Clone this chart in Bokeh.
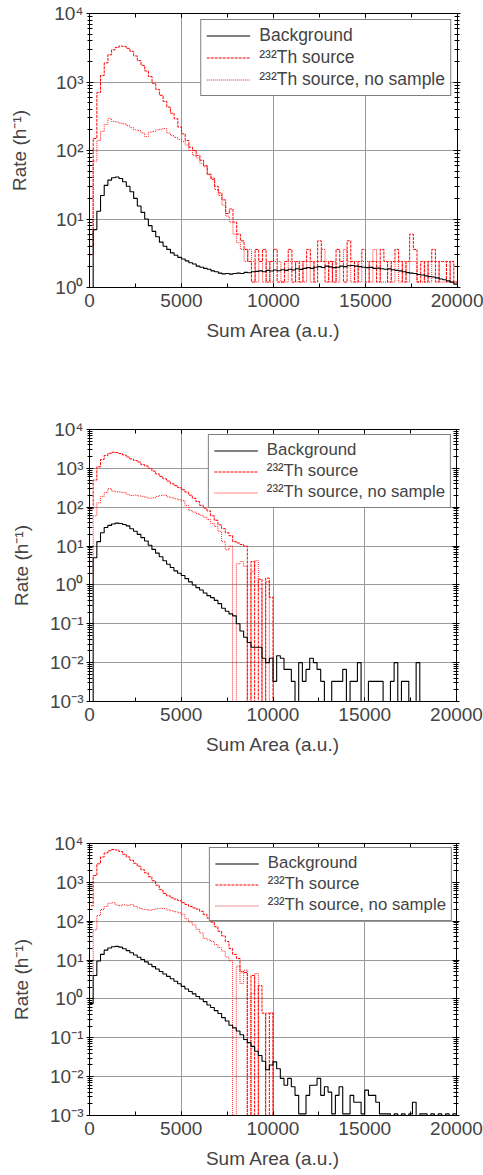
import numpy as np
from bokeh.plotting import figure
from bokeh.models import (Range1d, LinearAxis, LogAxis, SingleIntervalTicker, FixedTicker,
                          CustomJSTickFormatter, Legend, LegendItem)
from bokeh.layouts import column
from bokeh.embed import file_html
from bokeh.resources import INLINE

# ---------------- data ----------------
bin_width = 200  # a.u. per histogram bin, first bin starts at 0
x_title = "Sum Area (a.u.)"
y_title = "Rate (h\u207b\u00b9)"
series_names = ["Background", "\u00b2\u00b3\u00b2Th source", "\u00b2\u00b3\u00b2Th source, no sample"]

# Panel 1
p1_background = [0, 7, 13, 22, 31, 37, 40, 41, 39, 35,
                 30, 25, 20, 15.5, 12.5, 10, 8.0, 6.6, 5.5, 4.6,
                 4.0, 3.6, 3.2, 2.95, 2.75, 2.6, 2.45, 2.3, 2.2, 2.05,
                 1.98, 1.9, 1.85, 1.75, 1.7, 1.62, 1.58, 1.6, 1.57, 1.6,
                 1.62, 1.6, 1.66, 1.64, 1.7, 1.72, 1.75, 1.7, 1.78, 1.74,
                 1.8, 1.76, 1.82, 1.78, 1.85, 1.8, 1.88, 1.84, 1.9, 1.95,
                 1.9, 1.98, 2.02, 1.96, 2.05, 2.0, 1.95, 1.98, 2.05, 2.02,
                 2.08, 2.1, 2.05, 2.02, 1.98, 1.95, 1.97, 1.9, 1.92, 1.88,
                 1.85, 1.87, 1.82, 1.78, 1.75, 1.7, 1.65, 1.62, 1.6, 1.55,
                 1.52, 1.48, 1.45, 1.42, 1.38, 1.33, 1.3, 1.25, 1.2, 1.12]
p1_th_source = [4, 150, 700, 1250, 1900, 2500, 2950, 3200, 3350, 3300,
                3100, 2800, 2400, 2050, 1750, 1450, 1200, 960, 780, 640,
                520, 430, 350, 290, 220, 175, 140, 112, 100, 85,
                72, 60, 45, 38, 30, 24, 19, 12, 14, 9,
                6, 4.8, 3.6, 2.4, 1.2, 3.6, 2.4, 3.6, 1.2, 2.4,
                3.6, 1.2, 1.2, 2.4, 3.6, 1.2, 2.4, 1.2, 2.4, 3.6,
                2.4, 1.2, 4.8, 2.4, 1.2, 2.4, 1.2, 3.6, 2.4, 1.2,
                4.8, 2.4, 1.2, 2.4, 3.6, 1.2, 2.4, 2.4, 1.2, 3.6,
                2.4, 1.2, 2.4, 3.6, 2.4, 1.2, 2.4, 6.0, 3.6, 1.2,
                2.4, 1.2, 2.4, 3.6, 1.2, 2.4, 2.4, 1.2, 2.4, 1.2]
p1_no_sample = [3, 70, 140, 190, 240, 290, 265, 260, 250, 245,
                230, 215, 200, 195, 180, 160, 185, 190, 200, 205,
                210, 180, 165, 155, 145, 135, 120, 100, 85, 78,
                65, 58, 45, 40, 27, 22, 16, 11, 9, 6,
                4.5, 3.6, 2.4, 3.6, 2.4, 1.2, 2.4, 1.2, 2.4, 1.2,
                2.4, 2.4, 1.2, 1.2, 2.4, 2.4, 1.2, 2.4, 1.2, 2.4,
                1.2, 2.4, 2.4, 3.6, 2.4, 1.2, 2.4, 1.2, 2.4, 3.6,
                2.4, 1.2, 2.4, 1.2, 2.4, 2.4, 1.2, 3.6, 2.4, 1.2,
                1.2, 2.4, 1.2, 2.4, 1.2, 2.4, 1.2, 2.4, 2.4, 1.2,
                1.2, 2.4, 1.2, 2.4, 2.4, 1.2, 1.2, 2.4, 1.2, 1.2]

# Panel 2
p2_background = [0, 5, 13, 22, 30, 34, 37, 39, 38, 36,
                 33, 28, 24, 20, 16.5, 13.5, 10.5, 8.2, 6.6, 5.3,
                 4.2, 3.4, 2.8, 2.3, 2.0, 1.75, 1.45, 1.2, 1.0, 0.85,
                 0.74, 0.62, 0.53, 0.47, 0.4, 0.33, 0.25, 0.21, 0.18, 0.16,
                 0.1, 0.065, 0.045, 0.033, 0.025, 0.025, 0.025, 0.013, 0.01, 0.013,
                 0.0033, 0.015, 0.013, 0.0067, 0.0067, 0.0033, 0, 0.01, 0.0033, 0.0067,
                 0.013, 0.01, 0.0067, 0.0033, 0, 0, 0.0033, 0.0033, 0.0033, 0.0067,
                 0, 0.0033, 0.0033, 0.01, 0, 0, 0.0033, 0.0033, 0.0033, 0.0033,
                 0, 0, 0.0033, 0.01, 0, 0.0033, 0.0033, 0, 0, 0.01,
                 0, 0, 0, 0, 0, 0, 0, 0, 0, 0]
p2_th_source = [90, 500, 1100, 1700, 2150, 2450, 2600, 2550, 2400, 2200,
                1950, 1750, 1600, 1450, 1250, 1150, 1000, 850, 720, 620,
                540, 470, 400, 360, 320, 280, 245, 205, 170, 140,
                112, 95, 80, 60, 46, 35, 28, 22, 18.5, 13,
                12, 11, 10, 0, 4, 0, 1.4, 0, 1.5, 0.48]
p2_no_sample = [2, 60, 130, 190, 240, 300, 260, 250, 245, 240,
                215, 200, 205, 195, 190, 180, 170, 175, 190, 200,
                205, 185, 175, 165, 155, 148, 110, 83, 75, 68,
                62, 55, 48, 38, 32, 24, 13, 8, 10, 0,
                3.5, 4, 3.0, 0, 2.2, 4.2, 0.8, 0, 1.2, 0]

# Panel 3
p3_background = [0.76, 4, 9.5, 14, 18, 20.5, 22, 22.5, 21.5, 19.5,
                 17.5, 15.5, 13.5, 11.8, 10.3, 9, 7.8, 6.8, 5.9, 5.1,
                 4.4, 3.8, 3.3, 2.85, 2.45, 2.1, 1.8, 1.55, 1.35, 1.15,
                 1.0, 0.85, 0.7, 0.6, 0.5, 0.42, 0.33, 0.27, 0.21, 0.18,
                 0.15, 0.12, 0.09, 0.075, 0.06, 0.045, 0.035, 0.025, 0.015, 0.02,
                 0.024, 0.016, 0.009, 0.006, 0.009, 0.0055, 0.0033, 0.0011, 0.0011, 0.0033,
                 0.006, 0.006, 0.009, 0.0033, 0.0055, 0.004, 0.0011, 0.0033, 0.0055, 0.0011,
                 0.0011, 0.0033, 0.0022, 0.0022, 0.0011, 0.0045, 0.0033, 0.0033, 0.0022, 0.0011,
                 0.0011, 0.0011, 0, 0.0011, 0, 0.0011, 0, 0.0011, 0.0022, 0,
                 0.0011, 0.0011, 0, 0.0011, 0, 0.0011, 0, 0.0011, 0, 0.0011]
p3_th_source = [250, 1500, 3000, 4500, 5700, 6500, 7000, 6800, 6200, 5300,
                4500, 3700, 3100, 2600, 2100, 1750, 1400, 1100, 850, 650,
                520, 450, 400, 370, 340, 300, 270, 240, 220, 205,
                180, 150, 120, 95, 72, 55, 42, 30, 20, 14,
                11, 5, 4.8, 0, 4.0, 0, 2.2, 0.43, 0, 0.43]
p3_no_sample = [4, 60, 140, 200, 240, 290, 300, 260, 250, 265,
                255, 270, 240, 220, 205, 200, 190, 200, 210, 215,
                210, 195, 185, 175, 165, 150, 115, 95, 80, 62,
                50, 36, 33, 30, 25, 21, 17, 12, 9.5, 0,
                7, 2.5, 5.5, 0, 1.4, 4.5, 0, 0, 0.43, 0.43]

FONT = "Liberation Sans"
FLOOR = 1e-6


def outline(vals):
    v = np.asarray(vals, dtype=float)
    edges = np.arange(len(v) + 1) * bin_width
    xs = np.repeat(edges, 2)
    ys = np.concatenate([[FLOOR], np.repeat(np.where(v > 0, v, FLOOR), 2), [FLOOR]])
    return xs, ys


sup_formatter_code = """
const m = {"-": "\\u207b", "0": "\\u2070", "1": "\\u00b9", "2": "\\u00b2", "3": "\\u00b3",
           "4": "\\u2074", "5": "\\u2075", "6": "\\u2076", "7": "\\u2077", "8": "\\u2078", "9": "\\u2079"};
const e = Math.round(Math.log10(tick));
return "10" + String(e).split("").map(c => m[c]).join("");
"""


def make_panel(bg, th, ns, ymin_exp, left, right, top, bottom, fw, fh,
               legend_font, legend_label_width, y_title_standoff, legend_margin):
    p = figure(output_backend="svg", toolbar_location=None,
               frame_width=fw, frame_height=fh,
               min_border_left=left, min_border_right=right,
               min_border_top=top, min_border_bottom=bottom,
               x_range=Range1d(0, 20000), y_range=Range1d(10.0 ** ymin_exp, 1e4),
               y_axis_type="log", background_fill_color="white",
               border_fill_color="white")
    p.outline_line_color = "black"
    p.outline_line_width = 1

    exps = list(range(ymin_exp, 5))
    majors = [10.0 ** k for k in exps]
    minors = [m * 10.0 ** k for k in exps[:-1] for m in range(2, 10)]
    yticker = FixedTicker(ticks=majors, minor_ticks=minors)
    xticker = SingleIntervalTicker(interval=5000, num_minor_ticks=2)

    # bottom axis
    xa = p.xaxis[0]
    xa.ticker = xticker
    xa.axis_label = x_title
    xa.axis_label_text_font = FONT
    xa.axis_label_text_font_size = "19px"
    xa.axis_label_text_font_style = "normal"
    xa.axis_label_standoff = 10
    xa.major_label_text_font = FONT
    xa.major_label_text_font_size = "19px"
    xa.major_label_standoff = 6
    xa.major_tick_in = 4
    xa.major_tick_out = 0
    xa.minor_tick_in = 4
    xa.minor_tick_out = 0
    xa.axis_line_color = "black"

    # left axis
    ya = p.yaxis[0]
    ya.ticker = yticker
    ya.formatter = CustomJSTickFormatter(code=sup_formatter_code)
    ya.axis_label = y_title
    ya.axis_label_text_font = FONT
    ya.axis_label_text_font_size = "19px"
    ya.axis_label_text_font_style = "normal"
    ya.axis_label_standoff = y_title_standoff
    ya.major_label_text_font = FONT
    ya.major_label_text_font_size = "19px"
    ya.major_label_standoff = 3
    ya.major_tick_in = 4
    ya.major_tick_out = 3
    ya.minor_tick_in = 3
    ya.minor_tick_out = 2
    ya.axis_line_color = "black"

    blank = CustomJSTickFormatter(code='return ""')
    top_axis = LinearAxis(ticker=xticker, formatter=blank, major_tick_in=4, major_tick_out=0,
                          minor_tick_in=4, minor_tick_out=0, axis_line_color="black")
    p.add_layout(top_axis, "above")
    right_axis = LogAxis(ticker=yticker, formatter=blank, major_tick_in=4, major_tick_out=3,
                         minor_tick_in=3, minor_tick_out=2, axis_line_color="black")
    p.add_layout(right_axis, "right")

    p.xgrid.ticker = xticker
    p.ygrid.ticker = yticker
    for g in (p.xgrid, p.ygrid):
        g.grid_line_color = "#9a9a9a"
        g.grid_line_width = 1

    xs, ys = outline(ns)
    r_ns = p.line(xs, ys, line_color="#ff2020", line_width=1, line_dash="1 1", line_alpha=1.0)
    xs, ys = outline(th)
    r_th = p.line(xs, ys, line_color="red", line_width=1, line_dash="3 1")
    xs, ys = outline(bg)
    r_bg = p.line(xs, ys, line_color="black", line_width=1.1)

    legend = Legend(items=[LegendItem(label=series_names[0], renderers=[r_bg]),
                           LegendItem(label=series_names[1], renderers=[r_th]),
                           LegendItem(label=series_names[2], renderers=[r_ns])],
                    location="top_right", margin=legend_margin, padding=5, spacing=1,
                    glyph_width=44, glyph_height=15, label_height=15,
                    label_standoff=9, label_width=legend_label_width,
                    label_text_font=FONT, label_text_font_size=legend_font,
                    border_line_color="black", border_line_width=1,
                    background_fill_color="white", background_fill_alpha=1)
    p.add_layout(legend)
    return p


p1 = make_panel(p1_background, p1_th_source, p1_no_sample, 0,
                86, 29, 13, 113, 368, 274, "17.5px", 184, 21, 6)
p2 = make_panel(p2_background, p2_th_source, p2_no_sample, -3,
                89, 27, 29, 89, 367, 272, "16.8px", 172, 15, 5)
p3 = make_panel(p3_background, p3_th_source, p3_no_sample, -3,
                89, 27, 53, 60, 367, 272, "16.8px", 172, 15, 4)

layout = column(p1, p2, p3, spacing=0)
open("out.html", "w").write(file_html(layout, INLINE))
